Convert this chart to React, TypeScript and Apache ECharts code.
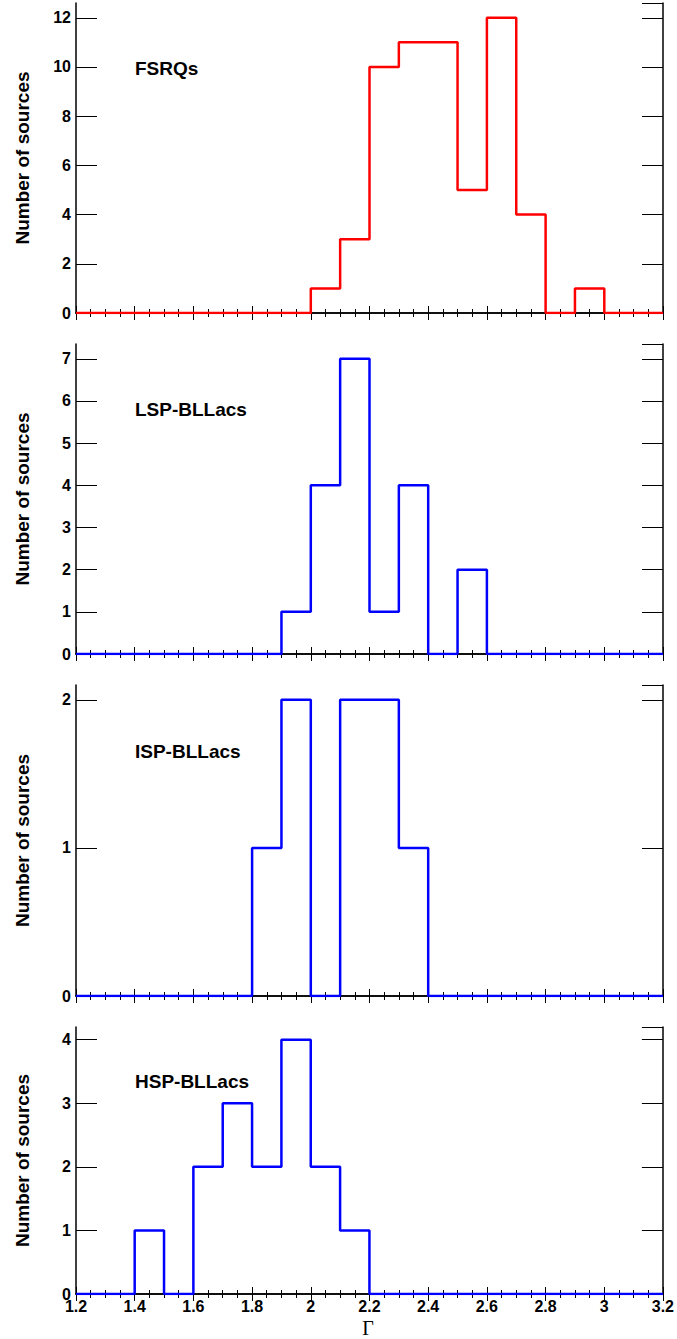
import React, { useEffect, useRef } from "react";
import * as echarts from "echarts";

// Bin edges of Γ (bin width 0.1)
const edges = [1.2, 1.3, 1.4, 1.5, 1.6, 1.7, 1.8, 1.9, 2.0, 2.1, 2.2, 2.3, 2.4, 2.5, 2.6, 2.7, 2.8, 2.9, 3.0, 3.1, 3.2];
// Counts per bin (20 bins)
const fsrq = [0, 0, 0, 0, 0, 0, 0, 0, 1, 3, 10, 11, 11, 5, 12, 4, 0, 1, 0, 0];
const lsp = [0, 0, 0, 0, 0, 0, 0, 1, 4, 7, 1, 4, 0, 2, 0, 0, 0, 0, 0, 0];
const isp = [0, 0, 0, 0, 0, 0, 1, 2, 0, 2, 2, 1, 0, 0, 0, 0, 0, 0, 0, 0];
const hsp = [0, 0, 1, 0, 2, 3, 2, 4, 2, 1, 0, 0, 0, 0, 0, 0, 0, 0, 0, 0];
const panelLabels = ["FSRQs", "LSP-BLLacs", "ISP-BLLacs", "HSP-BLLacs"];
const yMax = [12.6, 7.35, 2.1, 4.2];
const yInterval = [2, 1, 1, 1];
const colors = ["#ff0000", "#0000ff", "#0000ff", "#0000ff"];
const xTitle = "Γ";
const yTitle = "Number of sources";

const panels = [
  { top: 3, height: 310, labelY: 70 },
  { top: 344, height: 310, labelY: 411 },
  { top: 685, height: 311, labelY: 753 },
  { top: 1027, height: 267, labelY: 1083 },
];

function stepData(counts: number[]) {
  const d: [number, number][] = counts.map((c, i) => [edges[i], c]);
  d.push([edges[edges.length - 1], counts[counts.length - 1]]);
  return d;
}

export default function App() {
  const ref = useRef<HTMLDivElement>(null);
  useEffect(() => {
    if (!ref.current) return;
    const chart = echarts.init(ref.current, undefined, { renderer: "svg" });
    const all = [fsrq, lsp, isp, hsp];
    const font = "'Liberation Sans', Arial, sans-serif";
    const axisLine = { show: true, lineStyle: { color: "#000", width: 1.5 } };
    const grid: any[] = [];
    const xAxis: any[] = [];
    const yAxis: any[] = [];
    const series: any[] = [];
    const graphic: any[] = [];
    panels.forEach((p, i) => {
      grid.push({ left: 76, right: 14, top: p.top, height: p.height, containLabel: false });
      const xBase = {
        type: "value",
        gridIndex: i,
        min: 1.2,
        max: 3.2,
        interval: 0.2,
        splitLine: { show: false },
        axisLine,
        axisTick: { show: true, inside: true, length: 7, lineStyle: { color: "#000", width: 1 } },
        minorTick: { show: true, splitNumber: 4, length: 4, lineStyle: { color: "#000", width: 1 } },
        minorSplitLine: { show: false },
      };
      xAxis.push({
        ...xBase,
        position: "bottom",
        axisLabel: {
          show: i === 3,
          color: "#000",
          fontFamily: font,
          fontWeight: "bold",
          fontSize: 16,
          margin: 4,
          formatter: (v: number) => String(Math.round(v * 10) / 10),
        },
      });
      xAxis.push({ ...xBase, position: "top", axisLabel: { show: false } });
      const yBase = {
        type: "value",
        gridIndex: i,
        min: 0,
        max: yMax[i],
        interval: yInterval[i],
        splitLine: { show: false },
        axisLine,
        axisTick: { show: true, inside: true, length: 21, lineStyle: { color: "#000", width: 1 } },
      };
      yAxis.push({
        ...yBase,
        position: "left",
        axisLabel: {
          show: true,
          color: "#000",
          fontFamily: font,
          fontWeight: "bold",
          fontSize: 16,
          margin: 5,
          showMaxLabel: false,
        },
      });
      yAxis.push({ ...yBase, position: "right", axisLabel: { show: false } });
      series.push({
        type: "line",
        xAxisIndex: 2 * i,
        yAxisIndex: 2 * i,
        step: "end",
        showSymbol: false,
        symbol: "none",
        data: stepData(all[i]),
        lineStyle: { color: colors[i], width: 2.5 },
        itemStyle: { color: colors[i] },
        z: 1,
      });
      graphic.push({
        type: "text",
        left: 135,
        top: p.labelY - 11,
        style: { text: panelLabels[i], fill: "#000", font: `bold 19px ${font}` },
      });
      graphic.push({
        type: "text",
        x: 22,
        y: p.top + p.height / 2,
        rotation: Math.PI / 2,
        style: {
          text: yTitle,
          fill: "#000",
          font: `bold 19px ${font}`,
          align: "center",
          verticalAlign: "middle",
        },
      });
    });
    graphic.push({
      type: "text",
      x: 368,
      y: 1328,
      style: {
        text: xTitle,
        fill: "#000",
        font: "20px 'Liberation Serif', 'Times New Roman', serif",
        align: "center",
        verticalAlign: "middle",
      },
    });
    chart.setOption({
      animation: false,
      backgroundColor: "#fff",
      grid,
      xAxis,
      yAxis,
      series,
      graphic,
    });
    return () => chart.dispose();
  }, []);
  return (
    <div
      ref={ref}
      style={{ position: "absolute", left: 0, top: 0, width: 677, height: 1339 }}
    />
  );
}
